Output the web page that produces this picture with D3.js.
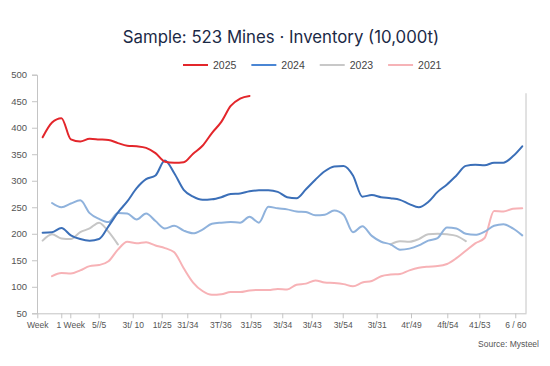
<!DOCTYPE html>
<html>
<head>
<meta charset="utf-8">
<script src="https://cdn.jsdelivr.net/npm/d3@7"></script>
<style>
  html, body { margin: 0; padding: 0; background: #fff; }
  svg { display: block; }
</style>
</head>
<body>
<svg id="chart" width="550" height="366"></svg>
<script>
// ---------- DATA (index i = week i+1) ----------
const title = "Sample: 523 Mines · Inventory (10,000t)";
const source = "Source: Mysteel";
const yTicks = [50, 100, 150, 200, 250, 300, 350, 400, 450, 500];
const xTickWeeks = [0.43, 2.98, 3.94, 6.96, 10.58, 13.66, 16.38, 19.89, 23.12, 26.48, 29.61, 32.91, 36.52, 40.17, 44.03, 47.43, 51.26];
const xTickLabels = ["Week", "", "1 Week", "5//5", "3t/ 10", "1t/25", "31/34", "3T/36", "31/35", "3t/34", "3t/43", "3t/54", "3t/31", "4t'/49", "4ft/54", "41/53", "6 / 60"];

const s2025 = [382, 410, 418, 378, 374, 379, 378, 377, 371, 366, 365, 362, 352, 336, 334, 335, 351, 366, 390, 411, 441, 455, 460];
const s2024 = [202, 203, 211, 197, 190, 187, 190, 214, 240, 261, 286, 303, 310, 338, 314, 283, 270, 264, 265, 269, 275, 276, 280, 282, 282, 279, 269, 267, 284, 302, 318, 327, 328, 310, 270, 273, 269, 267, 264, 256, 250, 260, 279, 293, 310, 328, 330, 329, 334, 334, 346, 365];
const sLightBlue = [null, 258, 250, 257, 263, 239, 228, 222, 239, 238, 227, 238, 224, 210, 215, 206, 201, 208, 219, 221, 222, 221, 232, 221, 251, 248, 246, 242, 241, 235, 236, 244, 236, 203, 214, 196, 185, 180, 170, 172, 178, 187, 192, 212, 210, 200, 198, 204, 215, 218, 210, 197];
const s2023 = [187, 199, 191, 190, 203, 210, 221, 204, 180,
  null, null, null, null, null, null, null, null, null, null, null, null, null, null, null, null, null, null, null, null, null, null, null, null, null, null, null, null,
  180, 186, 185, 190, 199, 200, 199, 196, 186];
const s2021 = [null, 120, 126, 125, 131, 139, 141, 148, 170, 185, 182, 184, 178, 173, 165, 135, 108, 92, 85, 86, 90, 90, 93, 94, 94, 96, 95, 104, 106, 112, 108, 107, 105, 101, 108, 111, 120, 123, 124, 131, 136, 138, 139, 143, 154, 168, 182, 192, 243, 242, 247, 248];

const legendNames = ["2025", "2024", "2023", "2021"];
const legendColors = ["#e3262b", "#4a86d4", "#c8c8c8", "#f6b3b7"];

// draw order: back to front
const seriesList = [
  { values: s2021, color: "#f7b2b6" },
  { values: s2023, color: "#c6c6c6" },
  { values: sLightBlue, color: "#8fb2dc" },
  { values: s2024, color: "#3b6fb8" },
  { values: s2025, color: "#e3262b" }
];

// ---------- LAYOUT ----------
const svg = d3.select("#chart");
const plotL = 37, plotR = 526, plotT = 74.7, plotB = 313.3;
const x = d3.scaleLinear().domain([0.4, 52.4]).range([plotL, plotR]);
const y = d3.scaleLinear().domain([50, 500]).range([plotB, plotT]);
const axisColor = "#c4c4c4";
const fontFam = "'Liberation Sans', Arial, sans-serif";

// title
svg.append("text")
  .attr("x", 281).attr("y", 43)
  .attr("text-anchor", "middle")
  .attr("font-family", "Inter, 'Noto Sans', sans-serif")
  .attr("font-size", 16.8)
  .attr("fill", "#1b2946")
  .text(title);

// legend
const lg = svg.append("g");
let lx = 183;
legendNames.forEach((n, i) => {
  lg.append("line").attr("x1", lx).attr("x2", lx + 25).attr("y1", 65).attr("y2", 65)
    .attr("stroke", legendColors[i]).attr("stroke-width", 2);
  const t = lg.append("text").attr("x", lx + 30).attr("y", 69)
    .attr("font-family", fontFam).attr("font-size", 10.5).attr("fill", "#444").text(n);
  lx = lx + 30 + t.node().getComputedTextLength() + 15;
});

// y axis
const yAxis = d3.axisLeft(y).tickValues(yTicks).tickSize(5).tickPadding(5);
const gy = svg.append("g").attr("transform", `translate(${plotL},0)`).call(yAxis);
gy.select(".domain").attr("stroke", axisColor);
gy.selectAll(".tick line").attr("stroke", axisColor);
gy.selectAll(".tick text").attr("font-family", fontFam).attr("font-size", 9.5).attr("fill", "#555");

// x axis
const xAxis = d3.axisBottom(x).tickValues(xTickWeeks)
  .tickFormat((d, i) => xTickLabels[i]).tickSize(5).tickPadding(4).tickSizeOuter(0);
const gx = svg.append("g").attr("transform", `translate(0,${plotB})`).call(xAxis);
gx.select(".domain").attr("stroke", axisColor);
gx.selectAll(".tick line").attr("stroke", axisColor);
gx.selectAll(".tick text").attr("font-family", fontFam).attr("font-size", 8.5).attr("fill", "#555");

// right border
svg.append("line").attr("x1", plotR).attr("x2", plotR).attr("y1", y(465)).attr("y2", plotB)
  .attr("stroke", axisColor);

// lines
const line = d3.line()
  .defined(d => d.v != null)
  .x(d => x(d.w))
  .y(d => y(d.v))
  .curve(d3.curveMonotoneX);

seriesList.forEach(s => {
  const pts = s.values.map((v, i) => ({ w: i + 1, v: v }));
  svg.append("path").datum(pts)
    .attr("d", line)
    .attr("fill", "none")
    .attr("stroke", s.color)
    .attr("stroke-width", 2)
    .attr("stroke-linejoin", "round")
    .attr("stroke-linecap", "round");
});

// source
svg.append("text").attr("x", 539).attr("y", 347)
  .attr("text-anchor", "end")
  .attr("font-family", fontFam).attr("font-size", 8.5).attr("fill", "#555")
  .text(source);
</script>
</body>
</html>
